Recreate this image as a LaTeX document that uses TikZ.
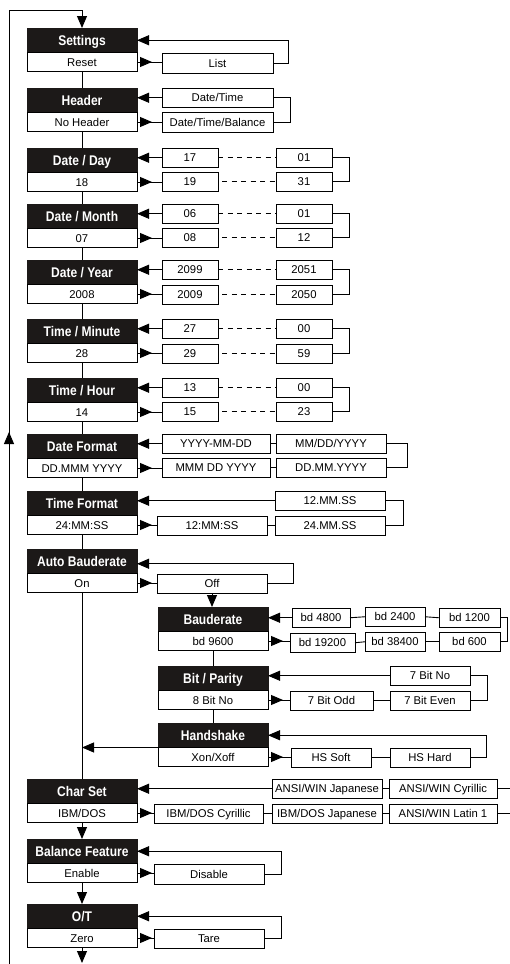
\documentclass[tikz,border=0pt]{standalone}
\usepackage{fontspec}
\setmainfont{Liberation Sans}
\newfontfamily\hdfont[FakeStretch=0.86]{Liberation Sans}
\usetikzlibrary{arrows.meta,decorations.markings}
\definecolor{hdcol}{RGB}{28,25,24}
\begin{document}
\begin{tikzpicture}[x=1pt,y=-1pt,
  every node/.style={inner sep=0pt,outer sep=0pt},
  hd/.style={fill=hdcol,draw=hdcol,text=white,font=\hdfont\bfseries\fontsize{14}{14}\selectfont,
    minimum width=110pt,minimum height=24.5pt,anchor=north west,text height=10pt,text depth=0pt},
  vl/.style={draw=black,line width=0.9pt,fill=white,font=\fontsize{11.3}{11.3}\selectfont,
    minimum width=110pt,minimum height=19pt,anchor=north,text height=8.1pt,text depth=0pt},
  ob/.style={draw=black,line width=0.9pt,fill=white,font=\fontsize{11.3}{11.3}\selectfont,
    minimum height=19.5pt,anchor=north west,text height=8.1pt,text depth=0pt},
  ln/.style={line width=0.9pt},
  dsh/.style={line width=0.9pt,dash pattern=on 5pt off 4.5pt},
  inarr/.style={line width=0.9pt,-{Triangle[length=12pt,width=10pt]}},
  outarr/.style={line width=0.9pt,postaction={decorate},
    decoration={markings,mark=at position 15pt with {\arrow{Triangle[length=12pt,width=10pt]}}}},
]
\useasboundingbox (0,0) rectangle (510,964);

% ---------- main column ----------
\node[hd] (h1) at (27,28) {Settings};
\node[vl] (v1) at (h1.south) {Reset};
\node[hd] (h2) at (27,88) {Header};
\node[vl] (v2) at (h2.south) {No Header};
\node[hd] (h3) at (27,148) {Date / Day};
\node[vl] (v3) at (h3.south) {18};
\node[hd] (h4) at (27,204) {Date / Month};
\node[vl] (v4) at (h4.south) {07};
\node[hd] (h5) at (27,260) {Date / Year};
\node[vl] (v5) at (h5.south) {2008};
\node[hd] (h6) at (27,319) {Time / Minute};
\node[vl] (v6) at (h6.south) {28};
\node[hd] (h7) at (27,378) {Time / Hour};
\node[vl] (v7) at (h7.south) {14};
\node[hd] (h8) at (27,434) {Date Format};
\node[vl] (v8) at (h8.south) {DD.MMM YYYY};
\node[hd] (h9) at (27,491) {Time Format};
\node[vl] (v9) at (h9.south) {24:MM:SS};
\node[hd] (h10) at (27,549) {Auto Bauderate};
\node[vl] (v10) at (h10.south) {On};
\node[hd] (h11) at (27,779) {Char Set};
\node[vl] (v11) at (h11.south) {IBM/DOS};
\node[hd] (h12) at (27,839) {Balance Feature};
\node[vl] (v12) at (h12.south) {Enable};
\node[hd] (h13) at (27,904) {O/T};
\node[vl] (v13) at (h13.south) {Zero};

% sub column
\node[hd] (b1) at (158,607) {Bauderate};
\node[vl] (bv1) at (b1.south) {bd 9600};
\node[hd] (b2) at (158,666) {Bit / Parity};
\node[vl] (bv2) at (b2.south) {8 Bit No};
\node[hd] (b3) at (158,723) {Handshake};
\node[vl] (bv3) at (b3.south) {Xon/Xoff};

% ---------- option boxes ----------
\node[ob,minimum width=111pt] (list) at (162,53.5) {List};
\node[ob,minimum width=111pt] (dt) at (162,88) {Date/Time};
\node[ob,minimum width=111pt] (dtb) at (162,112.5) {Date/Time/Balance};

\node[ob,minimum width=56pt] (d17) at (162,148) {17};
\node[ob,minimum width=56pt] (d01) at (276,148) {01};
\node[ob,minimum width=56pt] (d19) at (162,172) {19};
\node[ob,minimum width=56pt] (d31) at (276,172) {31};

\node[ob,minimum width=56pt] (m06) at (162,204) {06};
\node[ob,minimum width=56pt] (m01) at (276,204) {01};
\node[ob,minimum width=56pt] (m08) at (162,228) {08};
\node[ob,minimum width=56pt] (m12) at (276,228) {12};

\node[ob,minimum width=56pt] (y99) at (162,260) {2099};
\node[ob,minimum width=56pt] (y51) at (276,260) {2051};
\node[ob,minimum width=56pt] (y09) at (162,285) {2009};
\node[ob,minimum width=56pt] (y50) at (276,285) {2050};

\node[ob,minimum width=56pt] (n27) at (162,319) {27};
\node[ob,minimum width=56pt] (n00) at (276,319) {00};
\node[ob,minimum width=56pt] (n29) at (162,344) {29};
\node[ob,minimum width=56pt] (n59) at (276,344) {59};

\node[ob,minimum width=56pt] (t13) at (162,378) {13};
\node[ob,minimum width=56pt] (t00) at (276,378) {00};
\node[ob,minimum width=56pt] (t15) at (162,402) {15};
\node[ob,minimum width=56pt] (t23) at (276,402) {23};

\node[ob,minimum width=108pt] (f1) at (162,434) {YYYY-MM-DD};
\node[ob,minimum width=110pt] (f2) at (276,434) {MM/DD/YYYY};
\node[ob,minimum width=108pt] (f3) at (162,458) {MMM DD YYYY};
\node[ob,minimum width=110pt] (f4) at (276,458) {DD.MM.YYYY};

\node[ob,minimum width=110pt] (tf1) at (275,491) {12.MM.SS};
\node[ob,minimum width=110pt] (tf2) at (157,516) {12:MM:SS};
\node[ob,minimum width=110pt] (tf3) at (275,516) {24.MM.SS};

\node[ob,minimum width=110pt] (off) at (157,574) {Off};

\node[ob,minimum width=58pt] (bd48) at (292,608) {bd 4800};
\node[ob,minimum width=60pt] (bd24) at (365,607) {bd 2400};
\node[ob,minimum width=61pt] (bd12) at (439,608) {bd 1200};
\node[ob,minimum width=65pt] (bd192) at (290,633) {bd 19200};
\node[ob,minimum width=60pt] (bd384) at (365,632) {bd 38400};
\node[ob,minimum width=61pt] (bd6) at (439,632) {bd 600};

\node[ob,minimum width=80pt] (p7n) at (390,666) {7 Bit No};
\node[ob,minimum width=83pt] (p7o) at (290,691) {7 Bit Odd};
\node[ob,minimum width=80pt] (p7e) at (390,691) {7 Bit Even};

\node[ob,minimum width=80pt] (hss) at (291,748) {HS Soft};
\node[ob,minimum width=80pt] (hsh) at (390,748) {HS Hard};

\node[ob,minimum width=110pt] (cj) at (272,779) {ANSI/WIN Japanese};
\node[ob,minimum width=108pt] (cc) at (389,779) {ANSI/WIN Cyrillic};
\node[ob,minimum width=109pt] (ic) at (154,804) {IBM/DOS Cyrillic};
\node[ob,minimum width=110pt] (ij) at (272,804) {IBM/DOS Japanese};
\node[ob,minimum width=108pt] (al) at (389,804) {ANSI/WIN Latin 1};

\node[ob,minimum width=110pt] (dis) at (154,864.5) {Disable};
\node[ob,minimum width=110pt] (tare) at (154,929) {Tare};

% ---------- free coordinates ----------
\coordinate (redge) at (510,0);
\coordinate (topc) at (82,10);
\coordinate (leftb) at (9,966);
\coordinate (botc) at (82,963);

% ---------- outer loop ----------
\draw[inarr,postaction={decorate},
  decoration={markings,mark=at position 534pt with {\arrow{Triangle[length=12pt,width=10pt]}}}]
  (leftb) |- (topc) -- (h1.north);

% ---------- main vertical connectors ----------
\draw[ln] (v1.south) -- (h2.north);
\draw[ln] (v2.south) -- (h3.north);
\draw[ln] (v3.south) -- (h4.north);
\draw[ln] (v4.south) -- (h5.north);
\draw[ln] (v5.south) -- (h6.north);
\draw[ln] (v6.south) -- (h7.north);
\draw[ln] (v7.south) -- (h8.north);
\draw[ln] (v8.south) -- (h9.north);
\draw[ln] (v9.south) -- (h10.north);
\draw[ln] (v10.south) -- (h11.north);
\draw[inarr] (v11.south) -- (h12.north);
\draw[inarr] (v12.south) -- (h13.north);
\draw[inarr] (v13.south) -- (botc);

% ---------- Settings ----------
\draw[outarr] (v1.east) -- (v1.east -| list.west);
\draw[inarr] (list.east) -- ++(15,0) |- (h1.east);

% ---------- Header ----------
\draw[inarr] (dt.west) -- (dt.west -| h2.east);
\draw[outarr] (v2.east) -- (v2.east -| dtb.west);
\draw[ln] (dt.east) -- ++(17,0) |- (dtb.east);

% ---------- numeric ranges ----------
\foreach \h/\v/\a/\b/\c/\d in {h3/v3/d17/d01/d19/d31, h4/v4/m06/m01/m08/m12,
   h5/v5/y99/y51/y09/y50, h6/v6/n27/n00/n29/n59, h7/v7/t13/t00/t15/t23}{
  \draw[inarr] (\a.west) -- (\a.west -| \h.east);
  \draw[outarr] (\v.east) -- (\v.east -| \c.west);
  \draw[dsh] (\a.east) -- (\b.west);
  \draw[dsh] ([xshift=4pt]\c.east) -- (\d.west);
  \draw[ln] (\b.east) -- ++(17,0) |- (\d.east);
}

% ---------- Date Format ----------
\draw[inarr] (f1.west) -- (f1.west -| h8.east);
\draw[outarr] (v8.east) -- (v8.east -| f3.west);
\draw[ln] (f1.east) -- (f2.west);
\draw[ln] (f3.east) -- (f4.west);
\draw[ln] (f2.east) -- ++(21,0) |- (f4.east);

% ---------- Time Format ----------
\draw[inarr] (tf1.west) -- (tf1.west -| h9.east);
\draw[outarr] (v9.east) -- (v9.east -| tf2.west);
\draw[ln] (tf2.east) -- (tf3.west);
\draw[ln] (tf1.east) -- ++(18,0) |- (tf3.east);

% ---------- Auto Bauderate ----------
\draw[outarr] (v10.east) -- (v10.east -| off.west);
\draw[inarr] (off.east) -- ++(26,0) |- ([yshift=-2.5pt]h10.east);
\draw[inarr] (off.south) -- (off.south |- b1.north);

% ---------- Bauderate ----------
\draw[inarr] (bd48.west) -- (bd48.west -| b1.east);
\draw[outarr] (bv1.east) -- (bv1.east -| bd192.west);
\draw[ln] (bd48.east) -- (bd24.west);
\draw[ln] (bd24.east) -- (bd12.west);
\draw[ln] (bd192.east) -- (bd384.west);
\draw[ln] (bd384.east) -- (bd6.west);
\draw[ln] (bd12.east) -- ++(7,0) |- (bd6.east);
\draw[ln] (bv1.south) -- (b2.north);

% ---------- Bit / Parity ----------
\draw[inarr] (p7n.west) -- (p7n.west -| b2.east);
\draw[outarr] (bv2.east) -- (bv2.east -| p7o.west);
\draw[ln] (p7o.east) -- (p7e.west);
\draw[ln] (p7n.east) -- ++(17,0) |- (p7e.east);
\draw[ln] (bv2.south) -- (b3.north);

% ---------- Handshake ----------
\draw[outarr] (bv3.east) -- (bv3.east -| hss.west);
\draw[ln] (hss.east) -- (hsh.west);
\draw[inarr] (hsh.east) -- ++(16,0) |- (b3.east);
\draw[inarr] (b3.south west) -- (b3.south west -| v10.south);

% ---------- Char Set ----------
\draw[inarr] (cj.west) -- (cj.west -| h11.east);
\draw[outarr] (v11.east) -- (v11.east -| ic.west);
\draw[ln] (cj.east) -- (cc.west);
\draw[ln] (cc.east) -- (cc.east -| redge);
\draw[ln] (ic.east) -- (ij.west);
\draw[ln] (ij.east) -- (al.west);
\draw[ln] (al.east) -- (al.east -| redge);

% ---------- Balance Feature ----------
\draw[outarr] (v12.east) -- (v12.east -| dis.west);
\draw[inarr] (dis.east) -- ++(17,0) |- (h12.east);

% ---------- O/T ----------
\draw[outarr] (v13.east) -- (v13.east -| tare.west);
\draw[inarr] (tare.east) -- ++(17,0) |- (h13.east);
\end{tikzpicture}
\end{document}
